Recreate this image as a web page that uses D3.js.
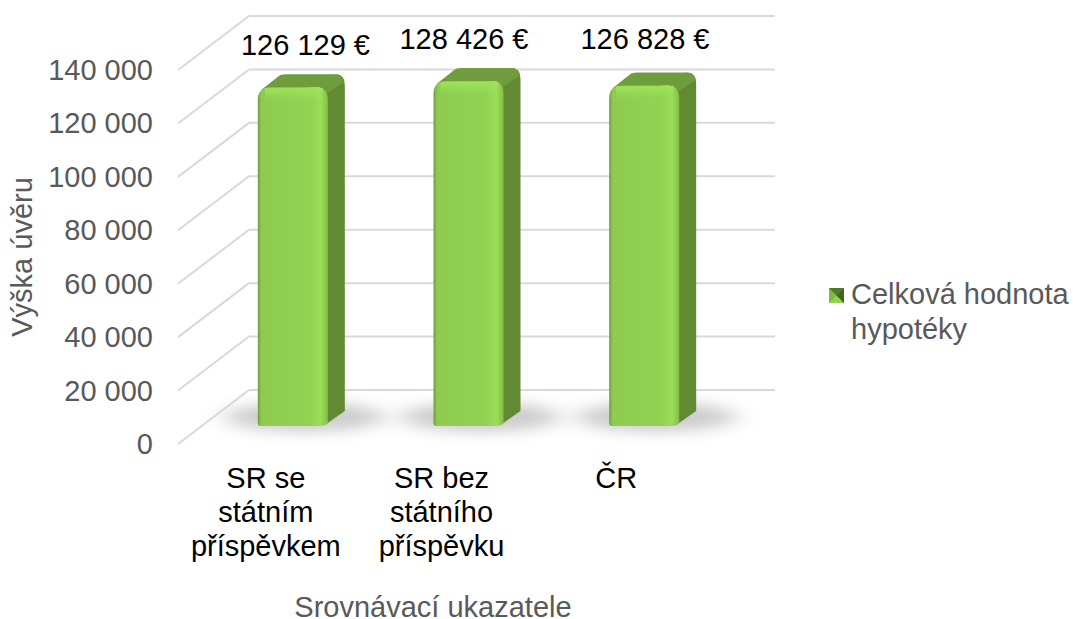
<!DOCTYPE html>
<html>
<head>
<meta charset="utf-8">
<script src="https://cdn.jsdelivr.net/npm/d3@7"></script>
<style>
  html, body { margin: 0; padding: 0; background: #fff; }
  svg { display: block; }
  text { font-family: "Liberation Sans", Arial, sans-serif; }
</style>
</head>
<body>
<svg width="1073" height="619"></svg>
<script>
var categories = ["SR se státním příspěvkem", "SR bez státního příspěvku", "ČR"];
var categoryLines = [["SR se", "státním", "příspěvkem"], ["SR bez", "státního", "příspěvku"], ["ČR"]];
var values = [126129, 128426, 126828];
var valueLabels = ["126 129 €", "128 426 €", "126 828 €"];
var yTicks = [0, 20000, 40000, 60000, 80000, 100000, 120000, 140000];
var seriesName = ["Celková hodnota", "hypotéky"];

var svg = d3.select("svg");
var color = "#595959", gridColor = "#d9d9d9", fontSize = 29;

// front plane of the 3d box, the back wall is this one moved by depth
var x = d3.scaleBand().domain(categories).range([178, 705]);
var y = d3.scaleLinear().domain([0, 140000]).range([444, 70]);
var depth = {x: 71, y: -54};
// bars stand inside the box, so they have their own vertical scale
var barY = d3.scaleLinear().domain([0, 140000]).range([426, 50]);
var barShiftX = 27, barWidth = 70, kx = 17, ky = 13;
var labelPos = [{x: 305.5, y: 55}, {x: 464, y: 49}, {x: 645, y: 49}];

var defs = svg.append("defs");

var front = defs.append("linearGradient").attr("id", "front");
front.append("stop").attr("offset", "0").attr("stop-color", "#6b9f3a");
front.append("stop").attr("offset", "0.05").attr("stop-color", "#8ecb50");
front.append("stop").attr("offset", "0.75").attr("stop-color", "#92d353");
front.append("stop").attr("offset", "0.9").attr("stop-color", "#9ade58");
front.append("stop").attr("offset", "1").attr("stop-color", "#84bd48");

var shine = defs.append("linearGradient").attr("id", "topshine").attr("x2", 0).attr("y2", 1);
shine.append("stop").attr("offset", "0").attr("stop-color", "#9ee35a").attr("stop-opacity", 1);
shine.append("stop").attr("offset", "1").attr("stop-color", "#9ee35a").attr("stop-opacity", 0);

var sw = defs.append("filter").attr("id", "blur").attr("x", "-40%").attr("y", "-150%").attr("width", "180%").attr("height", "400%");
sw.append("feGaussianBlur").attr("stdDeviation", "13 7");

// grid
var grid = svg.append("g");
grid.selectAll(".wall").data(yTicks).enter().append("line")
  .attr("x1", x.range()[0] + depth.x).attr("x2", x.range()[1] + depth.x - 1)
  .attr("y1", function(d) { return y(d) + depth.y; })
  .attr("y2", function(d) { return y(d) + depth.y; })
  .attr("stroke", gridColor).attr("stroke-width", 2);
grid.selectAll(".side").data(yTicks).enter().append("line")
  .attr("x1", x.range()[0]).attr("x2", x.range()[0] + depth.x)
  .attr("y1", function(d) { return y(d); })
  .attr("y2", function(d) { return y(d) + depth.y; })
  .attr("stroke", gridColor).attr("stroke-width", 2);

// bars
var bar = svg.selectAll(".bar").data(values).enter().append("g").attr("class", "bar");

function barLeft(i) { return x(categories[i]) + x.bandwidth() / 2 + barShiftX - barWidth / 2; }
function barTop(d) { return barY(d); }
var floorY = barY(0);

bar.append("ellipse")
  .attr("cx", function(d, i) { return barLeft(i) + barWidth / 2 + 12; })
  .attr("cy", floorY - 9)
  .attr("rx", 80).attr("ry", 15)
  .attr("fill", "#c4c4c4").attr("opacity", 0.85)
  .attr("filter", "url(#blur)");

// side face
bar.append("path")
  .attr("d", function(d, i) {
    var r = barLeft(i) + barWidth, t = barTop(d);
    return "M" + (r - 3) + "," + (floorY - 1) + "L" + (r + kx) + "," + (floorY - ky - 2) +
      "L" + (r + kx) + "," + (t - ky + 11) + "Q" + (r + kx) + "," + (t - ky) + " " + (r + kx - 9) + "," + (t - ky) +
      "L" + (r - 5) + "," + (t - 1) + "L" + (r - 5) + "," + (t + 8) + "Z";
  })
  .attr("fill", "#628a33");

// top face
bar.append("path")
  .attr("d", function(d, i) {
    var l = barLeft(i), r = l + barWidth, t = barTop(d);
    return "M" + (l + 3) + "," + (t + 3) + "L" + (l + kx + 5) + "," + (t - ky + 1) + "Q" + (l + kx + 8) + "," + (t - ky) + " " + (l + kx + 12) + "," + (t - ky) +
      "L" + (r + kx - 9) + "," + (t - ky) + "Q" + (r + kx - 2) + "," + (t - ky) + " " + (r + kx - 1) + "," + (t - ky + 8) +
      "L" + (r - 1) + "," + (t + 6) + "Q" + (r - 2) + "," + t + " " + (r - 12) + "," + t + "Z";
  })
  .attr("fill", "#6f9c3c");

// front face
function frontPath(d, i) {
  var l = barLeft(i), r = l + barWidth, t = barTop(d);
  return "M" + l + "," + (floorY - 3) + "L" + l + "," + (t + 13) + "Q" + l + "," + t + " " + (l + 13) + "," + t +
    "L" + (r - 12) + "," + t + "Q" + r + "," + t + " " + r + "," + (t + 12) +
    "L" + r + "," + (floorY - 3) + "Q" + (r - 3) + "," + floorY + " " + (r - 8) + "," + floorY +
    "L" + (l + 3) + "," + floorY + "Q" + l + "," + floorY + " " + l + "," + (floorY - 3) + "Z";
}
bar.append("path").attr("d", frontPath).attr("fill", "url(#front)");
bar.append("rect")
  .attr("x", function(d, i) { return barLeft(i) + 7; })
  .attr("y", function(d) { return barTop(d) + 1; })
  .attr("width", barWidth - 13).attr("height", 12)
  .attr("fill", "url(#topshine)");

// value labels
svg.selectAll(".value").data(valueLabels).enter().append("text")
  .attr("x", function(d, i) { return labelPos[i].x; })
  .attr("y", function(d, i) { return labelPos[i].y; })
  .attr("text-anchor", "middle")
  .attr("font-size", fontSize).attr("fill", "#000")
  .text(function(d) { return d; });

// y axis labels
svg.selectAll(".ytick").data(yTicks).enter().append("text")
  .attr("x", 153)
  .attr("y", function(d) { return y(d) + 10; })
  .attr("text-anchor", "end")
  .attr("font-size", fontSize).attr("fill", color)
  .text(function(d) { return d3.format(",")(d).replace(/,/g, " "); });

// category labels
categoryLines.forEach(function(lines, i) {
  svg.append("text")
    .attr("text-anchor", "middle")
    .attr("font-size", fontSize).attr("fill", "#000")
    .selectAll("tspan").data(lines).enter().append("tspan")
    .attr("x", x(categories[i]) + x.bandwidth() / 2 + (i == 2 ? -1 : 0))
    .attr("y", function(d, j) { return 488 + j * 34; })
    .text(function(d) { return d; });
});

// axis titles
svg.append("text")
  .attr("transform", "translate(32,257) rotate(-90)")
  .attr("text-anchor", "middle")
  .attr("font-size", fontSize).attr("fill", color)
  .text("Výška úvěru");
svg.append("text")
  .attr("x", 433).attr("y", 617)
  .attr("text-anchor", "middle")
  .attr("font-size", fontSize).attr("fill", color)
  .text("Srovnávací ukazatele");

// legend
var lg = svg.append("g").attr("transform", "translate(829,288)");
lg.append("rect").attr("width", 15).attr("height", 15).attr("fill", "#7fb845");
lg.append("path").attr("d", "M0,0L15,0L7.5,7.5Z").attr("fill", "#4d7a26");
lg.append("path").attr("d", "M0,15L15,15L7.5,7.5Z").attr("fill", "#92d353");
lg.append("path").attr("d", "M15,0L15,15L7.5,7.5Z").attr("fill", "#3f6520");
svg.append("text")
  .attr("font-size", fontSize).attr("fill", color)
  .selectAll("tspan").data(seriesName).enter().append("tspan")
  .attr("x", 851)
  .attr("y", function(d, i) { return 304 + i * 35; })
  .text(function(d) { return d; });
</script>
</body>
</html>
